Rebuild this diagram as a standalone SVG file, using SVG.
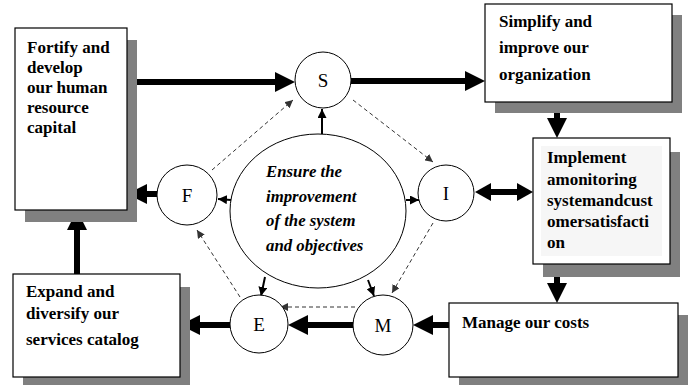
<svg xmlns="http://www.w3.org/2000/svg" width="691" height="385" viewBox="0 0 691 385">
<style>
.box{fill:#fff;stroke:#000;stroke-width:1.2}
.shadow{fill:#808080}
.bt{font-family:"Liberation Serif",serif;font-weight:bold;font-size:17px;fill:#000}
.ct{font-family:"Liberation Serif",serif;font-weight:bold;font-style:italic;font-size:16.8px;fill:#000}
.circ{fill:#fff;stroke:#000;stroke-width:1}
.lt{font-family:"Liberation Serif",serif;font-size:19px;fill:#000;text-anchor:middle}
.thick{stroke:#000;stroke-width:6;fill:none}
.thin{stroke:#000;stroke-width:2;fill:none}
.dash{stroke:#333;stroke-width:1;stroke-dasharray:4 3;fill:none}
</style>
<defs>
<marker id="big" viewBox="0 0 20 20" refX="10" refY="10" markerWidth="20" markerHeight="20" markerUnits="userSpaceOnUse" orient="auto-start-reverse"><path d="M0,0 L20,10 L0,20 z" fill="#000"/></marker>
<marker id="mid" viewBox="0 0 16 18" refX="6" refY="9" markerWidth="16" markerHeight="18" markerUnits="userSpaceOnUse" orient="auto-start-reverse"><path d="M0,0 L16,9 L0,18 z" fill="#000"/></marker>
<marker id="small" viewBox="0 0 10 10" refX="10" refY="5" markerWidth="9" markerHeight="9" markerUnits="userSpaceOnUse" orient="auto"><path d="M0,0 L10,5 L0,10 z" fill="#000"/></marker>
<marker id="dh" viewBox="0 0 8 8" refX="8" refY="4" markerWidth="8" markerHeight="8" markerUnits="userSpaceOnUse" orient="auto"><path d="M0,0 L8,4 L0,8 z" fill="#333"/></marker>
</defs>

<g id="connectors">
<line class="thick" x1="127" y1="82" x2="285" y2="82" marker-end="url(#big)"/>
<line class="thick" x1="351" y1="81" x2="475" y2="81" marker-end="url(#big)"/>
<line class="thick" x1="557" y1="103" x2="557" y2="128" marker-end="url(#big)"/>
<line class="thick" x1="557" y1="264" x2="557" y2="293" marker-end="url(#big)"/>
<line class="thick" x1="449" y1="325" x2="423" y2="325" marker-end="url(#big)"/>
<line class="thick" x1="353" y1="325" x2="298" y2="325" marker-end="url(#big)"/>
<line class="thick" x1="230" y1="325" x2="190" y2="325" marker-end="url(#big)"/>
<line class="thick" x1="77" y1="274" x2="77" y2="220" marker-end="url(#big)"/>
<line class="thick" x1="157" y1="194" x2="137" y2="194" marker-end="url(#big)"/>
<line class="thick" x1="485" y1="192" x2="523" y2="192" marker-start="url(#mid)" marker-end="url(#mid)"/>
<line class="thin" x1="322" y1="134" x2="322" y2="109" marker-end="url(#small)"/>
<line class="thin" x1="231" y1="200" x2="218" y2="199" marker-end="url(#small)"/>
<line class="thin" x1="406" y1="200" x2="419" y2="200" marker-end="url(#small)"/>
<line class="thin" x1="265" y1="277" x2="261" y2="296" marker-end="url(#small)"/>
<line class="thin" x1="368" y1="280" x2="374" y2="296" marker-end="url(#small)"/>
<line class="dash" x1="212" y1="170" x2="293" y2="100" marker-end="url(#dh)"/>
<line class="dash" x1="353" y1="100" x2="433" y2="162" marker-end="url(#dh)"/>
<line class="dash" x1="433" y1="223" x2="392" y2="293" marker-end="url(#dh)"/>
<line class="dash" x1="355" y1="307" x2="280" y2="307" marker-end="url(#dh)"/>
<line class="dash" x1="240" y1="297" x2="197" y2="230" marker-end="url(#dh)"/>
</g>

<g id="fortify">
<rect class="shadow" x="25" y="40" width="112" height="182"/>
<rect class="box" x="15" y="28" width="112" height="182"/>
<text class="bt" x="27" y="53">Fortify and</text>
<text class="bt" x="27" y="73">develop</text>
<text class="bt" x="27" y="93">our human</text>
<text class="bt" x="27" y="113">resource</text>
<text class="bt" x="27" y="133">capital</text>
</g>

<g id="simplify">
<rect class="shadow" x="495" y="15" width="187" height="98"/>
<rect class="box" x="485" y="4" width="187" height="98"/>
<text class="bt" x="499" y="27">Simplify and</text>
<text class="bt" x="499" y="53">improve our</text>
<text class="bt" x="499" y="80">organization</text>
</g>

<g id="implement">
<rect class="shadow" x="543" y="152" width="137" height="125"/>
<rect class="box" x="533" y="138" width="137" height="126"/>
<rect x="541" y="146" width="121" height="110" fill="#f6f6f6"/>
<text class="bt" x="547" y="163">Implement</text>
<text class="bt" x="547" y="185">amonitoring</text>
<text class="bt" x="547" y="206">systemandcust</text>
<text class="bt" x="547" y="227">omersatisfacti</text>
<text class="bt" x="547" y="248">on</text>
</g>

<g id="manage">
<rect class="shadow" x="459" y="315" width="229" height="70"/>
<rect class="box" x="449" y="303" width="229" height="74"/>
<text class="bt" x="462" y="328">Manage our costs</text>
</g>

<g id="expand">
<rect class="shadow" x="23" y="287" width="167" height="98"/>
<rect class="box" x="13" y="274" width="167" height="103"/>
<text class="bt" x="26" y="297">Expand and</text>
<text class="bt" x="26" y="319">diversify our</text>
<text class="bt" x="26" y="345">services catalog</text>
</g>

<g id="center">
<ellipse class="circ" cx="318" cy="211" rx="88" ry="77" stroke-width="1.2"/>
<text class="ct" x="266" y="177">Ensure the</text>
<text class="ct" x="266" y="202">improvement</text>
<text class="ct" x="266" y="226">of the system</text>
<text class="ct" x="266" y="251">and objectives</text>
</g>

<g id="nS"><circle class="circ" cx="323" cy="80" r="28"/><text class="lt" x="323" y="87">S</text></g>
<g id="nF"><circle class="circ" cx="187" cy="195" r="30"/><text class="lt" x="187" y="202">F</text></g>
<g id="nI"><circle class="circ" cx="446" cy="193" r="28"/><text class="lt" x="446" y="200">I</text></g>
<g id="nE"><circle class="circ" cx="259" cy="324" r="29"/><text class="lt" x="259" y="331">E</text></g>
<g id="nM"><circle class="circ" cx="383" cy="325" r="30"/><text class="lt" x="383" y="332">M</text></g>
</svg>
